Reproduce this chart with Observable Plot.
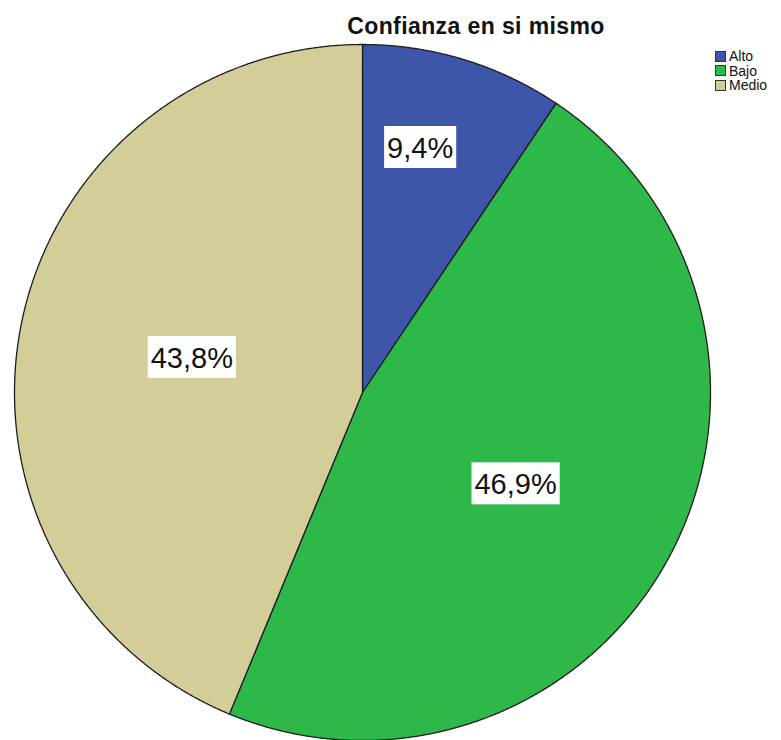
<!DOCTYPE html>
<html>
<head>
<meta charset="utf-8">
<script src="https://cdn.jsdelivr.net/npm/d3@7"></script>
<script src="https://cdn.jsdelivr.net/npm/@observablehq/plot@0.6"></script>
<style>
  html, body { margin: 0; padding: 0; background: #fff; }
  body { font-family: "Liberation Sans", Arial, sans-serif; }
  #wrap { position: relative; width: 781px; height: 740px; overflow: hidden; }
  #chart { position: absolute; left: 0; top: 0; }
  #title { position: absolute; left: 476px; top: 15px; transform: translateX(-50%);
           white-space: nowrap; font-size: 23px; line-height: 22px; font-weight: bold; color: #111;
           letter-spacing: 0.4px; z-index: 2; }
  #legend { position: absolute; left: 715px; top: 49px; z-index: 2; }
  .row { display: flex; align-items: center; height: 14.5px; font-size: 14px; color: #111; }
  .sw { width: 9px; height: 9px; border: 1px solid #333; margin-right: 3px; }
</style>
</head>
<body>
<div id="wrap">
  <div id="chart"></div>
  <div id="title"></div>
  <div id="legend"></div>
</div>
<script>
const title = "Confianza en si mismo";
const categories = ["Alto", "Bajo", "Medio"];
const percents = [9.4, 46.9, 43.8];
const colors = ["#3d56a9", "#2eb84a", "#d3ce98"];

// label placement styling (radius fraction, angle offset in degrees)
const labelStyle = { Alto: { r: 0.72, da: -3.6 }, Bajo: { r: 0.514, da: 3 }, Medio: { r: 0.5, da: 0 } };

const total = d3.sum(percents);
let acc = 0;
const slices = categories.map((c, i) => {
  const a0 = acc / total * 2 * Math.PI;
  acc += percents[i];
  const a1 = acc / total * 2 * Math.PI;
  return { cat: c, pct: percents[i], a0, a1 };
});

const outline = slices.flatMap(s => {
  const n = Math.max(2, Math.ceil((s.a1 - s.a0) / 0.004));
  const pts = [{ cat: s.cat, x: 0, y: 0 }];
  for (let k = 0; k <= n; k++) {
    const a = s.a0 + (s.a1 - s.a0) * k / n;
    pts.push({ cat: s.cat, x: Math.sin(a), y: Math.cos(a) });
  }
  return pts;
});

const labels = slices.map(s => {
  const st = labelStyle[s.cat];
  const a = (s.a0 + s.a1) / 2 + st.da * Math.PI / 180;
  return { cat: s.cat, x: st.r * Math.sin(a), y: st.r * Math.cos(a),
           text: s.pct.toFixed(1).replace(".", ",") + "%" };
});

const FS = 29;
const plot = Plot.plot({
  width: 781,
  height: 740,
  margin: 0,
  x: { domain: [-1, 1], range: [14, 710], axis: null },
  y: { domain: [-1, 1], range: [740, 44], axis: null },
  color: { domain: categories, range: colors },
  style: { background: "transparent" },
  marks: [
    Plot.line(outline, { x: "x", y: "y", z: "cat", fill: "cat", stroke: "#1c1c1c", strokeWidth: 1.3, curve: "linear-closed" }),
    Plot.text(labels, { x: "x", y: "y", text: "text", fontSize: FS, fill: "#111", lineAnchor: "middle",
                        fontFamily: "Liberation Sans, Arial, sans-serif" })
  ]
});
document.getElementById("chart").appendChild(plot);

// white boxes behind labels
const tg = plot.querySelector('g[aria-label="text"]');
if (tg) {
  tg.querySelectorAll("text").forEach(t => {
    const b = t.getBBox();
    const r = document.createElementNS("http://www.w3.org/2000/svg", "rect");
    const baseline = b.y + FS * 0.905 + (b.height - FS * 1.117) / 2;
    r.setAttribute("x", b.x - 3);
    r.setAttribute("width", b.width + 6);
    r.setAttribute("y", baseline - 32);
    r.setAttribute("height", 42);
    r.setAttribute("fill", "#fff");
    r.setAttribute("stroke", "none");
    if (t.getAttribute("transform")) r.setAttribute("transform", t.getAttribute("transform"));
    tg.insertBefore(r, t);
  });
}

document.getElementById("title").textContent = title;
const legend = d3.select("#legend");
categories.forEach((c, i) => {
  const row = legend.append("div").attr("class", "row");
  row.append("div").attr("class", "sw").style("background", colors[i]);
  row.append("span").text(c);
});
</script>
</body>
</html>
